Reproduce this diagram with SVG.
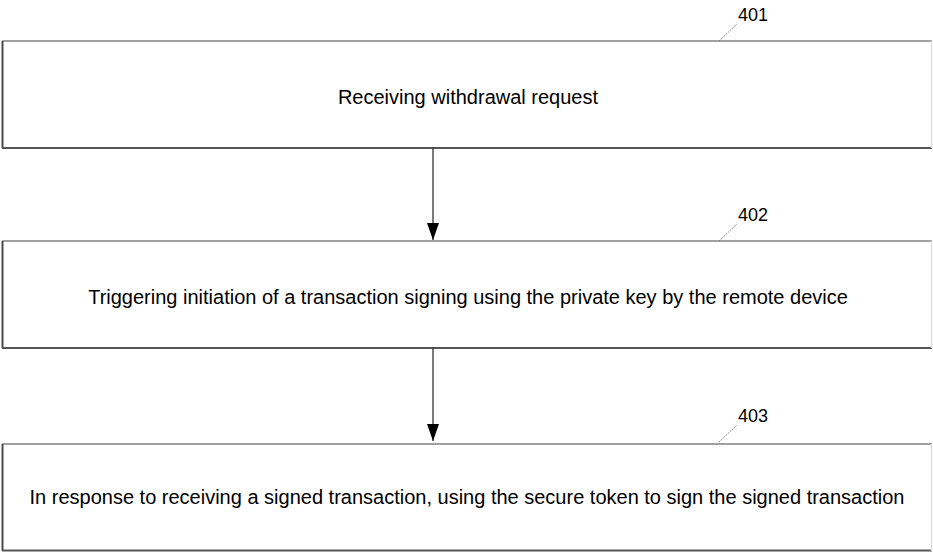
<svg xmlns="http://www.w3.org/2000/svg" width="933" height="552" viewBox="0 0 933 552">
<style>
.t{font-family:"Liberation Sans",Arial,sans-serif;font-size:20px;fill:#000}
.n{font-family:"Liberation Sans",Arial,sans-serif;font-size:18px;fill:#000}
.top{stroke:#a0a0a0;stroke-width:2}
.left{stroke:#4a4a4a;stroke-width:2}
.bot{stroke:#555;stroke-width:2}
.right{stroke:#e0e0e0;stroke-width:1.5}
.lead{stroke:#888;stroke-width:1;stroke-dasharray:2 1}
.conn{stroke:#333;stroke-width:1.3;fill:none}
</style>
<defs>
<marker id="ah" markerWidth="17" markerHeight="12" refX="17" refY="6" orient="auto" markerUnits="userSpaceOnUse" viewBox="0 0 17 12">
<path d="M0,0 L17,6 L0,12 Z" fill="#000"/>
</marker>
</defs>
<rect width="933" height="552" fill="#fff"/>
<g id="node401">
<line class="top" x1="2" y1="41" x2="932" y2="41"/>
<line class="left" x1="2.5" y1="41" x2="2.5" y2="148"/>
<line class="bot" x1="2" y1="148" x2="932" y2="148"/>
<line class="right" x1="931.5" y1="41" x2="931.5" y2="148"/>
<text class="t" x="468" y="104" text-anchor="middle">Receiving withdrawal request</text>
<line class="lead" x1="719" y1="41" x2="737" y2="24"/>
<text class="n" x="738" y="21">401</text>
</g>
<g id="node402">
<line class="top" x1="2" y1="241" x2="932" y2="241"/>
<line class="left" x1="2.5" y1="241" x2="2.5" y2="348"/>
<line class="bot" x1="2" y1="348" x2="932" y2="348"/>
<line class="right" x1="931.5" y1="241" x2="931.5" y2="348"/>
<text class="t" x="468" y="304" text-anchor="middle">Triggering initiation of a transaction signing using the private key by the remote device</text>
<line class="lead" x1="719" y1="241" x2="737" y2="224"/>
<text class="n" x="738" y="221">402</text>
</g>
<g id="node403">
<line class="top" x1="2" y1="444" x2="932" y2="444"/>
<line class="left" x1="2.5" y1="444" x2="2.5" y2="551"/>
<line class="bot" x1="2" y1="550.5" x2="932" y2="550.5"/>
<line class="right" x1="931.5" y1="444" x2="931.5" y2="551"/>
<text class="t" x="467" y="504" text-anchor="middle">In response to receiving a signed transaction, using the secure token to sign the signed transaction</text>
<line class="lead" x1="719" y1="442" x2="737" y2="425"/>
<text class="n" x="738" y="422">403</text>
</g>
<g id="connectors">
<line class="conn" x1="433" y1="148" x2="433" y2="240" marker-end="url(#ah)"/>
<line class="conn" x1="433" y1="348" x2="433" y2="441" marker-end="url(#ah)"/>
</g>
</svg>
